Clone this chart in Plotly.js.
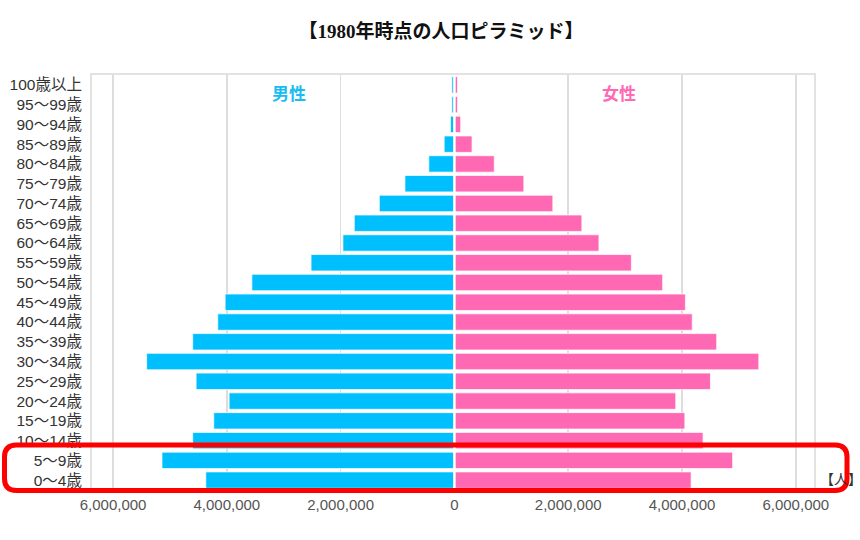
<!DOCTYPE html>
<html>
<head>
<meta charset="utf-8">
<script src="https://cdn.plot.ly/plotly-3.0.1.min.js"></script>
<style>html,body{margin:0;padding:0;background:#fff;}#chart{width:860px;height:540px;}</style>
</head>
<body>
<div id="chart"></div>
<script>
// Age groups (bottom to top)
const ageGroups = ['0～4歳','5～9歳','10～14歳','15～19歳','20～24歳','25～29歳','30～34歳','35～39歳','40～44歳','45～49歳','50～54歳','55～59歳','60～64歳','65～69歳','70～74歳','75～79歳','80～84歳','85～89歳','90～94歳','95～99歳','100歳以上'];
// Population (persons)
const malePop = [4370000,5140000,4600000,4230000,3960000,4540000,5410000,4600000,4160000,4030000,3560000,2520000,1960000,1760000,1320000,870000,450000,180000,70000,45000,45000];
const femalePop = [4160000,4890000,4370000,4050000,3890000,4500000,5350000,4610000,4180000,4060000,3660000,3110000,2540000,2240000,1730000,1220000,700000,310000,110000,55000,55000];
const xTickVals = [-6000000,-4000000,-2000000,0,2000000,4000000,6000000];
const xTickText = ['6,000,000','4,000,000','2,000,000','0','2,000,000','4,000,000','6,000,000'];
const maleLabel = '男性';
const femaleLabel = '女性';
const titleText = '【1980年時点の人口ピラミッド】';
const unitText = '【人】';

const W = 860, H = 540;
const M = {l: 92, r: 46, t: 75, b: 50};
const pw = W - M.l - M.r, ph = H - M.t - M.b;
const px = X => (X - M.l) / pw;
const py = Y => (H - M.b - Y) / ph;
function roundRect(x0, y0, x1, y1, r) {
  const P = (X, Y) => px(X) + ',' + py(Y);
  return 'M' + P(x0 + r, y0) + ' L' + P(x1 - r, y0) + ' Q' + P(x1, y0) + ' ' + P(x1, y0 + r) +
    ' L' + P(x1, y1 - r) + ' Q' + P(x1, y1) + ' ' + P(x1 - r, y1) +
    ' L' + P(x0 + r, y1) + ' Q' + P(x0, y1) + ' ' + P(x0, y1 - r) +
    ' L' + P(x0, y0 + r) + ' Q' + P(x0, y0) + ' ' + P(x0 + r, y0) + ' Z';
}

const maleColor = '#00BFFF';
const femaleColor = '#FF69B4';

const traces = [
  {
    type: 'bar', orientation: 'h', name: maleLabel,
    y: ageGroups, x: malePop.map(v => -v),
    marker: {color: maleColor, line: {color: 'rgba(255,255,255,0.7)', width: 1}},
    hoverinfo: 'skip'
  },
  {
    type: 'bar', orientation: 'h', name: femaleLabel,
    y: ageGroups, x: femalePop,
    marker: {color: femaleColor, line: {color: 'rgba(255,255,255,0.7)', width: 1}},
    hoverinfo: 'skip'
  }
];

const fontJP = 'Liberation Sans, Arial, Noto Sans CJK JP, sans-serif';

const layout = {
  width: W, height: H,
  margin: M,
  paper_bgcolor: '#fff', plot_bgcolor: '#fff',
  barmode: 'overlay', bargap: 0.17,
  showlegend: false,
  title: {
    text: '<b>' + titleText + '</b>',
    font: {family: 'Liberation Serif, Noto Sans CJK JP, serif', size: 19, color: '#111'},
    x: 441 / W, xref: 'container', xanchor: 'center',
    y: 1 - 31 / H, yref: 'container', yanchor: 'middle'
  },
  xaxis: {
    range: [-6370000, 6320000],
    tickvals: xTickVals, ticktext: xTickText,
    showgrid: true, gridcolor: '#dddddd', gridwidth: 1.5,
    zeroline: false,
    showline: true, mirror: true, linecolor: '#e2e2e2', linewidth: 2,
    ticks: '',
    tickfont: {family: 'Liberation Sans, Arial, sans-serif', size: 15, color: '#555'},
    fixedrange: true
  },
  yaxis: {
    type: 'category',
    categoryorder: 'array', categoryarray: ageGroups,
    range: [-0.5, ageGroups.length - 0.5],
    showgrid: false, zeroline: false,
    showline: true, mirror: true, linecolor: '#e2e2e2', linewidth: 2,
    ticks: 'outside', ticklen: 5, tickcolor: 'rgba(0,0,0,0)',
    tickfont: {family: fontJP, size: 15.5, color: '#333'},
    fixedrange: true
  },
  annotations: [
    {text: '<b>' + maleLabel + '</b>', xref: 'x', yref: 'paper', x: -2900000, y: py(92),
     showarrow: false, xanchor: 'center', yanchor: 'middle',
     font: {family: 'Noto Sans CJK JP, sans-serif', size: 17, color: '#1ABCF2'}},
    {text: '<b>' + femaleLabel + '</b>', xref: 'x', yref: 'paper', x: 2890000, y: py(92),
     showarrow: false, xanchor: 'center', yanchor: 'middle',
     font: {family: 'Noto Sans CJK JP, sans-serif', size: 17, color: '#FF69B4'}},
    {text: unitText, xref: 'paper', yref: 'paper', x: px(818), y: py(478),
     showarrow: false, xanchor: 'left', yanchor: 'middle',
     font: {family: 'Noto Sans CJK JP, sans-serif', size: 14, color: '#333'}}
  ],
  shapes: [
    {type: 'line', xref: 'x', yref: 'paper', x0: 0, x1: 0, y0: 0, y1: 1,
     line: {color: '#ffffff', width: 2.5}, layer: 'above'},
    {type: 'path', xref: 'paper', yref: 'paper', path: roundRect(4.5, 445, 847, 490.5, 12),
     line: {color: '#FF0000', width: 5}, fillcolor: 'rgba(0,0,0,0)', layer: 'above'}
  ]
};

Plotly.newPlot('chart', traces, layout, {staticPlot: true, displayModeBar: false});
</script>
</body>
</html>
